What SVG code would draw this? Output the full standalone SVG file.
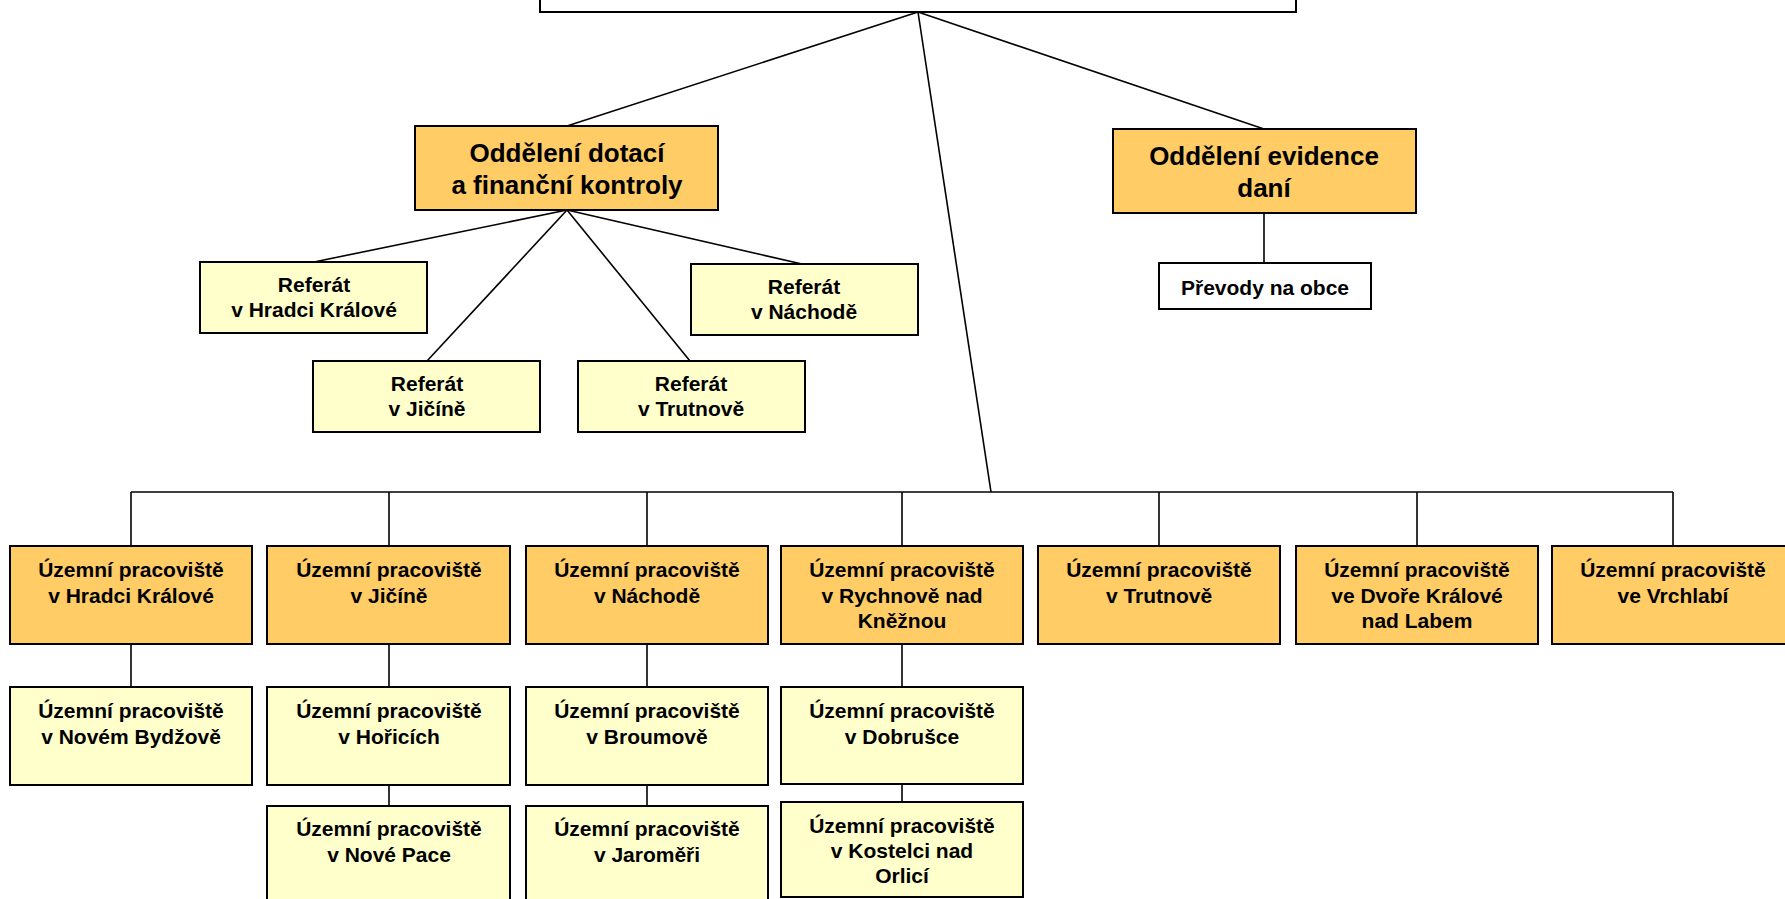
<svg xmlns="http://www.w3.org/2000/svg" width="1785" height="899" viewBox="0 0 1785 899">
<style>
rect{stroke:#000;stroke-width:2}
.o{fill:#FFCC66}
.y{fill:#FFFFCC}
.w{fill:#FFFFFF}
text{font-family:"Liberation Sans",Arial,sans-serif;font-weight:bold;fill:#000;text-anchor:middle}
.b{font-size:26px}
.s{font-size:21px}
#connectors line,#connectors polyline{stroke:#000;stroke-width:1.6;fill:none}
</style>
<rect width="1785" height="899" fill="#fff" style="stroke:none"/>
<g id="connectors">
<line x1="918" y1="12" x2="567" y2="126"/>
<line x1="918" y1="12" x2="1264" y2="129"/>
<line x1="918" y1="12" x2="991" y2="492"/>
<line x1="567" y1="210" x2="314" y2="262"/>
<line x1="567" y1="210" x2="802" y2="264"/>
<line x1="567" y1="210" x2="427" y2="361"/>
<line x1="567" y1="210" x2="690" y2="361"/>
<line x1="1264" y1="213" x2="1264" y2="263"/>
<line x1="131" y1="492" x2="1673" y2="492"/>
<line x1="131" y1="492" x2="131" y2="546"/>
<line x1="389" y1="492" x2="389" y2="546"/>
<line x1="647" y1="492" x2="647" y2="546"/>
<line x1="902" y1="492" x2="902" y2="546"/>
<line x1="1159" y1="492" x2="1159" y2="546"/>
<line x1="1417" y1="492" x2="1417" y2="546"/>
<line x1="1673" y1="492" x2="1673" y2="546"/>
<line x1="131" y1="644" x2="131" y2="687"/>
<line x1="389" y1="644" x2="389" y2="687"/>
<line x1="647" y1="644" x2="647" y2="687"/>
<line x1="902" y1="644" x2="902" y2="687"/>
<line x1="389" y1="785" x2="389" y2="806"/>
<line x1="647" y1="785" x2="647" y2="806"/>
<line x1="902" y1="784" x2="902" y2="802"/>
</g>
<g id="top"><rect class="w" x="540" y="-50" width="756" height="62"/></g>
<g id="dotace"><rect class="o" x="415" y="126" width="303" height="84"/>
<text class="b" x="567" y="162">Oddělení dotací</text><text class="b" x="567" y="194">a finanční kontroly</text></g>
<g id="evidence"><rect class="o" x="1113" y="129" width="303" height="84"/>
<text class="b" x="1264" y="165">Oddělení evidence</text><text class="b" x="1264" y="197">daní</text></g>
<g id="prevody"><rect class="w" x="1159" y="263" width="212" height="46"/>
<text class="s" x="1265" y="295">Převody na obce</text></g>
<g id="ref-hk"><rect class="y" x="200" y="262" width="227" height="71"/>
<text class="s" x="314" y="292">Referát</text><text class="s" x="314" y="317">v Hradci Králové</text></g>
<g id="ref-na"><rect class="y" x="691" y="264" width="227" height="71"/>
<text class="s" x="804" y="294">Referát</text><text class="s" x="804" y="319">v Náchodě</text></g>
<g id="ref-ji"><rect class="y" x="313" y="361" width="227" height="71"/>
<text class="s" x="427" y="391">Referát</text><text class="s" x="427" y="416">v Jičíně</text></g>
<g id="ref-tr"><rect class="y" x="578" y="361" width="227" height="71"/>
<text class="s" x="691" y="391">Referát</text><text class="s" x="691" y="416">v Trutnově</text></g>
<g id="up-hk"><rect class="o" x="10" y="546" width="242" height="98"/>
<text class="s" x="131" y="577">Územní pracoviště</text><text class="s" x="131" y="603">v Hradci Králové</text></g>
<g id="up-ji"><rect class="o" x="267" y="546" width="243" height="98"/>
<text class="s" x="389" y="577">Územní pracoviště</text><text class="s" x="389" y="603">v Jičíně</text></g>
<g id="up-na"><rect class="o" x="526" y="546" width="242" height="98"/>
<text class="s" x="647" y="577">Územní pracoviště</text><text class="s" x="647" y="603">v Náchodě</text></g>
<g id="up-ry"><rect class="o" x="781" y="546" width="242" height="98"/>
<text class="s" x="902" y="577">Územní pracoviště</text><text class="s" x="902" y="603">v Rychnově nad</text><text class="s" x="902" y="628">Kněžnou</text></g>
<g id="up-tr"><rect class="o" x="1038" y="546" width="242" height="98"/>
<text class="s" x="1159" y="577">Územní pracoviště</text><text class="s" x="1159" y="603">v Trutnově</text></g>
<g id="up-dk"><rect class="o" x="1296" y="546" width="242" height="98"/>
<text class="s" x="1417" y="577">Územní pracoviště</text><text class="s" x="1417" y="603">ve Dvoře Králové</text><text class="s" x="1417" y="628">nad Labem</text></g>
<g id="up-vr"><rect class="o" x="1552" y="546" width="242" height="98"/>
<text class="s" x="1673" y="577">Územní pracoviště</text><text class="s" x="1673" y="603">ve Vrchlabí</text></g>
<g id="up-nb"><rect class="y" x="10" y="687" width="242" height="98"/>
<text class="s" x="131" y="718">Územní pracoviště</text><text class="s" x="131" y="744">v Novém Bydžově</text></g>
<g id="up-ho"><rect class="y" x="267" y="687" width="243" height="98"/>
<text class="s" x="389" y="718">Územní pracoviště</text><text class="s" x="389" y="744">v Hořicích</text></g>
<g id="up-br"><rect class="y" x="526" y="687" width="242" height="98"/>
<text class="s" x="647" y="718">Územní pracoviště</text><text class="s" x="647" y="744">v Broumově</text></g>
<g id="up-do"><rect class="y" x="781" y="687" width="242" height="97"/>
<text class="s" x="902" y="718">Územní pracoviště</text><text class="s" x="902" y="744">v Dobrušce</text></g>
<g id="up-np"><rect class="y" x="267" y="806" width="243" height="110"/>
<text class="s" x="389" y="836">Územní pracoviště</text><text class="s" x="389" y="862">v Nové Pace</text></g>
<g id="up-ja"><rect class="y" x="526" y="806" width="242" height="110"/>
<text class="s" x="647" y="836">Územní pracoviště</text><text class="s" x="647" y="862">v Jaroměři</text></g>
<g id="up-ko"><rect class="y" x="781" y="802" width="242" height="95"/>
<text class="s" x="902" y="833">Územní pracoviště</text><text class="s" x="902" y="858">v Kostelci nad</text><text class="s" x="902" y="883">Orlicí</text></g>
</svg>
